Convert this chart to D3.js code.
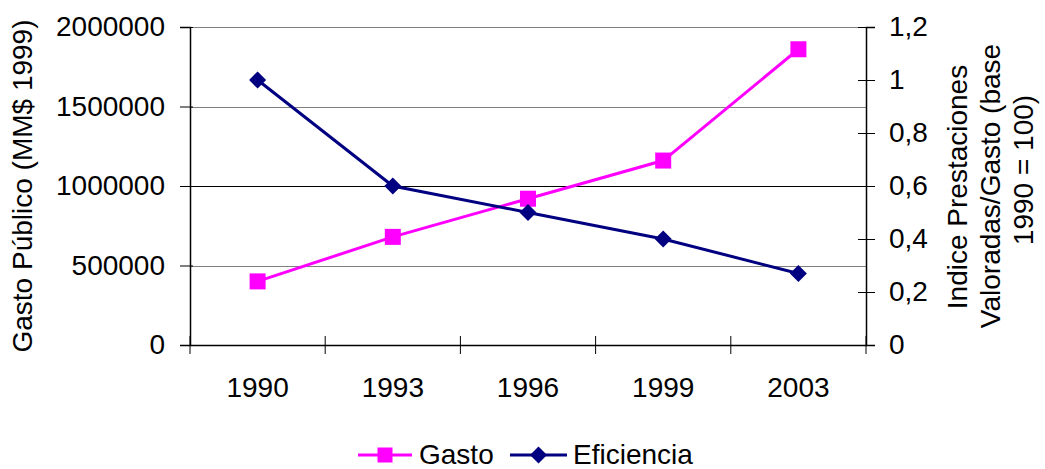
<!DOCTYPE html>
<html><head><meta charset="utf-8">
<script src="https://cdn.jsdelivr.net/npm/d3@7/dist/d3.min.js"></script>
<style>
html,body{margin:0;padding:0;background:#fff;}
text{font-family:"Liberation Sans",Arial,sans-serif;fill:#000;}
</style></head>
<body>
<svg id="c" width="1045" height="469"></svg>
<script>
const years = ["1990","1993","1996","1999","2003"];
const gasto = [400000, 680000, 920000, 1160000, 1860000];
const eficiencia = [1.0, 0.6, 0.5, 0.4, 0.27];
const leftTicks = [0, 500000, 1000000, 1500000, 2000000];
const rightTicks = [0, 0.2, 0.4, 0.6, 0.8, 1.0, 1.2];
const rightTickLabels = ["0","0,2","0,4","0,6","0,8","1","1,2"];
const seriesNames = ["Gasto","Eficiencia"];
const colors = ["#FF00FF","#000080"];

const svg = d3.select("#c");
const L = 190, R = 866, T = 27, B = 345;
const fs = 28;

const x = d3.scaleBand().domain(years).range([L, R]);
const yL = d3.scaleLinear().domain([0, 2000000]).range([B, T]);
const yR = d3.scaleLinear().domain([0, 1.2]).range([B, T]);

// gridlines
svg.append("g").selectAll("line").data(leftTicks.filter(d => d > 0)).join("line")
  .attr("x1", L).attr("x2", R)
  .attr("y1", d => Math.round(yL(d)) + 0.5).attr("y2", d => Math.round(yL(d)) + 0.5)
  .attr("stroke", d => d === 1000000 ? "#000" : "#808080").attr("stroke-width", 1);

// left axis
const gl = svg.append("g").attr("transform", `translate(${L},0)`)
  .call(d3.axisLeft(yL).tickValues(leftTicks).tickFormat(d3.format("d")).tickSize(10).tickPadding(15));
gl.select(".domain").attr("stroke", "#000").attr("stroke-width", 1.5);
gl.selectAll(".tick line").attr("stroke", "#000").attr("x2", -10).attr("x1", 3);
gl.selectAll("text").style("font-size", fs + "px").style("font-family", "'Liberation Sans',Arial,sans-serif");

// right axis
const gr = svg.append("g").attr("transform", `translate(${R},0)`)
  .call(d3.axisRight(yR).tickValues(rightTicks).tickFormat((d, i) => rightTickLabels[i]).tickSize(9).tickPadding(14));
gr.select(".domain").attr("stroke", "#000").attr("stroke-width", 1.5);
gr.selectAll(".tick line").attr("stroke", "#000").attr("x1", -8).attr("x2", 9);
gr.selectAll("text").style("font-size", fs + "px").style("font-family", "'Liberation Sans',Arial,sans-serif");

// bottom axis
const gb = svg.append("g").attr("transform", `translate(0,${B})`)
  .call(d3.axisBottom(x).tickSize(0).tickPadding(0));
gb.select(".domain").attr("stroke", "#000").attr("stroke-width", 1.5);
gb.selectAll(".tick line").remove();
gb.selectAll("text").style("font-size", fs + "px").style("font-family", "'Liberation Sans',Arial,sans-serif")
  .attr("dy", null).attr("y", 52);
// band-edge ticks
const edges = years.map(d => x(d)).concat([x(years[years.length - 1]) + x.bandwidth()]);
svg.append("g").selectAll("line").data(edges).join("line")
  .attr("x1", d => d).attr("x2", d => d).attr("y1", B - 9).attr("y2", B + 9)
  .attr("stroke", "#000").attr("stroke-width", 1);

// lines
const cx = d => x(d) + x.bandwidth() / 2;
const lineG = d3.line().x((d, i) => cx(years[i])).y(d => yL(d));
const lineE = d3.line().x((d, i) => cx(years[i])).y(d => yR(d));
svg.append("path").attr("d", lineG(gasto)).attr("fill", "none").attr("stroke", colors[0]).attr("stroke-width", 3);
svg.append("path").attr("d", lineE(eficiencia)).attr("fill", "none").attr("stroke", colors[1]).attr("stroke-width", 3);

const sq = d3.symbol().type(d3.symbolSquare).size(256);
const dm = (s) => `M0,${-s}L${s},0L0,${s}L${-s},0Z`;
svg.append("g").selectAll("path").data(gasto).join("path")
  .attr("d", sq()).attr("fill", colors[0])
  .attr("transform", (d, i) => `translate(${cx(years[i])},${yL(d)})`);
svg.append("g").selectAll("path").data(eficiencia).join("path")
  .attr("d", dm(8.5)).attr("fill", colors[1])
  .attr("transform", (d, i) => `translate(${cx(years[i])},${yR(d)})`);

// axis titles
svg.append("text").attr("transform", `translate(32,${(T + B) / 2}) rotate(-90)`)
  .attr("text-anchor", "middle").style("font-size", fs + "px").text("Gasto Público (MM$ 1999)");
const rt = [["Indice Prestaciones", 967, 187], ["Valoradas/Gasto (base", 1000, 186], ["1990 = 100)", 1033, 170]];
rt.forEach(([t, bx, cy]) => {
  svg.append("text").attr("transform", `translate(${bx},${cy}) rotate(-90)`)
    .attr("text-anchor", "middle").style("font-size", fs + "px").text(t);
});

// legend
const leg = [
  {name: seriesNames[0], color: colors[0], x1: 358, x2: 412, tx: 419, marker: d3.symbol().type(d3.symbolSquare).size(225)()},
  {name: seriesNames[1], color: colors[1], x1: 510, x2: 567, tx: 573, marker: dm(8.5)}
];
const ly = 455;
leg.forEach(l => {
  svg.append("line").attr("x1", l.x1).attr("x2", l.x2).attr("y1", ly).attr("y2", ly)
    .attr("stroke", l.color).attr("stroke-width", 3);
  svg.append("path").attr("d", l.marker).attr("fill", l.color)
    .attr("transform", `translate(${(l.x1 + l.x2) / 2},${ly})`);
  svg.append("text").attr("x", l.tx).attr("y", ly + 9).style("font-size", fs + "px").text(l.name);
});
</script>
</body></html>
